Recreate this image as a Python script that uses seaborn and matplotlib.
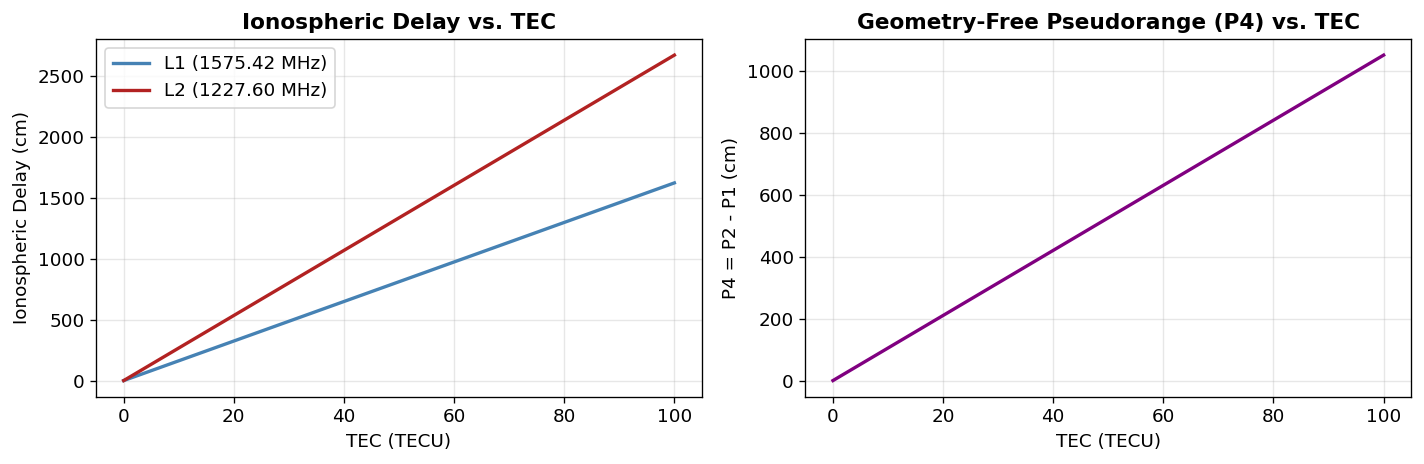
import numpy as np
import pandas as pd
import matplotlib
matplotlib.use("Agg")
import matplotlib.pyplot as plt
import seaborn as sns

# ------------------------------------------------------------
# Data
# ------------------------------------------------------------
tec = [0, 100]
l1_delay = [0, 1624]
l2_delay = [0, 2674]
p4 = [0, 1050]

# plain matplotlib look, black text
plt.rcParams['font.family'] = ['DejaVu Sans']
plt.rcParams['font.size'] = 11

delay_df = pd.DataFrame({
    "TEC": tec + tec,
    "Delay": l1_delay + l2_delay,
    "Signal": ["L1 (1575.42 MHz)"] * 2 + ["L2 (1227.60 MHz)"] * 2,
})
p4_df = pd.DataFrame({"TEC": tec, "P4": p4})

fig, axes = plt.subplots(1, 2, figsize=(1424 / 120, 464 / 120), dpi=120)

ax = axes[0]
sns.lineplot(
    data=delay_df,
    x="TEC",
    y="Delay",
    hue="Signal",
    palette=["steelblue", "firebrick"],
    linewidth=2,
    ax=ax
)
ax.set_title("Ionospheric Delay vs. TEC", fontweight="bold", fontsize=13)
ax.set_xlabel("TEC (TECU)")
ax.set_ylabel("Ionospheric Delay (cm)")
ax.grid(True, alpha=0.3)
ax.legend(title=None, loc="upper left")

ax = axes[1]
sns.lineplot(
    data=p4_df,
    x="TEC",
    y="P4",
    color="purple",
    linewidth=2,
    ax=ax
)
ax.set_title("Geometry-Free Pseudorange (P4) vs. TEC", fontweight="bold", fontsize=13)
ax.set_xlabel("TEC (TECU)")
ax.set_ylabel("P4 = P2 - P1 (cm)")
ax.grid(True, alpha=0.3)

plt.tight_layout(pad=0.7, w_pad=1.1)
plt.savefig("out.png", dpi=120)
